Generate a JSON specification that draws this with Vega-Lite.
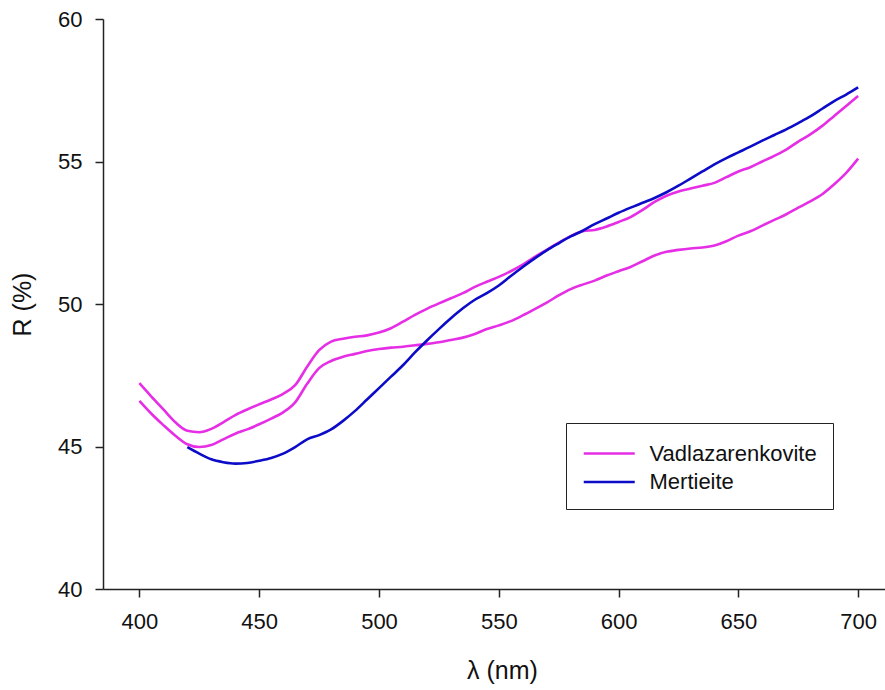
{
  "$schema": "https://vega.github.io/schema/vega-lite/v6.json",
  "autosize": "none",
  "padding": {"left": 103, "top": 19, "right": 0, "bottom": 101},
  "width": 782,
  "height": 570,
  "background": "white",
  "config": {
    "view": {"stroke": null},
    "font": "Liberation Sans",
    "axis": {
      "grid": false,
      "labelFont": "Liberation Sans",
      "labelFontSize": 22,
      "labelColor": "#111",
      "titleFont": "Liberation Sans",
      "titleFontSize": 25,
      "titleFontWeight": "normal",
      "titleColor": "#111",
      "domainColor": "#222",
      "domainWidth": 1.5,
      "tickColor": "#222",
      "tickWidth": 1.5,
      "tickSize": 8
    },
    "legend": {
      "labelFont": "Liberation Sans",
      "labelFontSize": 22,
      "labelColor": "#111"
    }
  },
  "datasets": {
    "spectra": [
      {"mineral": "Vadlazarenkovite", "curve": "V1", "wl": 400, "R": 47.22},
      {"mineral": "Vadlazarenkovite", "curve": "V1", "wl": 405, "R": 46.75},
      {"mineral": "Vadlazarenkovite", "curve": "V1", "wl": 410, "R": 46.3},
      {"mineral": "Vadlazarenkovite", "curve": "V1", "wl": 415, "R": 45.85},
      {"mineral": "Vadlazarenkovite", "curve": "V1", "wl": 420, "R": 45.55},
      {"mineral": "Vadlazarenkovite", "curve": "V1", "wl": 425, "R": 45.5},
      {"mineral": "Vadlazarenkovite", "curve": "V1", "wl": 430, "R": 45.62},
      {"mineral": "Vadlazarenkovite", "curve": "V1", "wl": 435, "R": 45.85},
      {"mineral": "Vadlazarenkovite", "curve": "V1", "wl": 440, "R": 46.1},
      {"mineral": "Vadlazarenkovite", "curve": "V1", "wl": 445, "R": 46.3},
      {"mineral": "Vadlazarenkovite", "curve": "V1", "wl": 450, "R": 46.48},
      {"mineral": "Vadlazarenkovite", "curve": "V1", "wl": 455, "R": 46.65},
      {"mineral": "Vadlazarenkovite", "curve": "V1", "wl": 460, "R": 46.85},
      {"mineral": "Vadlazarenkovite", "curve": "V1", "wl": 465, "R": 47.15},
      {"mineral": "Vadlazarenkovite", "curve": "V1", "wl": 470, "R": 47.8},
      {"mineral": "Vadlazarenkovite", "curve": "V1", "wl": 475, "R": 48.38},
      {"mineral": "Vadlazarenkovite", "curve": "V1", "wl": 480, "R": 48.68},
      {"mineral": "Vadlazarenkovite", "curve": "V1", "wl": 485, "R": 48.78},
      {"mineral": "Vadlazarenkovite", "curve": "V1", "wl": 490, "R": 48.85},
      {"mineral": "Vadlazarenkovite", "curve": "V1", "wl": 495, "R": 48.9},
      {"mineral": "Vadlazarenkovite", "curve": "V1", "wl": 500, "R": 49.0},
      {"mineral": "Vadlazarenkovite", "curve": "V1", "wl": 505, "R": 49.15},
      {"mineral": "Vadlazarenkovite", "curve": "V1", "wl": 510, "R": 49.38},
      {"mineral": "Vadlazarenkovite", "curve": "V1", "wl": 515, "R": 49.62},
      {"mineral": "Vadlazarenkovite", "curve": "V1", "wl": 520, "R": 49.83},
      {"mineral": "Vadlazarenkovite", "curve": "V1", "wl": 525, "R": 50.02},
      {"mineral": "Vadlazarenkovite", "curve": "V1", "wl": 530, "R": 50.2},
      {"mineral": "Vadlazarenkovite", "curve": "V1", "wl": 535, "R": 50.38},
      {"mineral": "Vadlazarenkovite", "curve": "V1", "wl": 540, "R": 50.6},
      {"mineral": "Vadlazarenkovite", "curve": "V1", "wl": 545, "R": 50.78},
      {"mineral": "Vadlazarenkovite", "curve": "V1", "wl": 550, "R": 50.95},
      {"mineral": "Vadlazarenkovite", "curve": "V1", "wl": 555, "R": 51.15},
      {"mineral": "Vadlazarenkovite", "curve": "V1", "wl": 560, "R": 51.38},
      {"mineral": "Vadlazarenkovite", "curve": "V1", "wl": 565, "R": 51.65},
      {"mineral": "Vadlazarenkovite", "curve": "V1", "wl": 570, "R": 51.9},
      {"mineral": "Vadlazarenkovite", "curve": "V1", "wl": 575, "R": 52.15},
      {"mineral": "Vadlazarenkovite", "curve": "V1", "wl": 580, "R": 52.38},
      {"mineral": "Vadlazarenkovite", "curve": "V1", "wl": 585, "R": 52.55},
      {"mineral": "Vadlazarenkovite", "curve": "V1", "wl": 590, "R": 52.6},
      {"mineral": "Vadlazarenkovite", "curve": "V1", "wl": 595, "R": 52.72},
      {"mineral": "Vadlazarenkovite", "curve": "V1", "wl": 600, "R": 52.88},
      {"mineral": "Vadlazarenkovite", "curve": "V1", "wl": 605, "R": 53.05},
      {"mineral": "Vadlazarenkovite", "curve": "V1", "wl": 610, "R": 53.3},
      {"mineral": "Vadlazarenkovite", "curve": "V1", "wl": 615, "R": 53.58},
      {"mineral": "Vadlazarenkovite", "curve": "V1", "wl": 620, "R": 53.8},
      {"mineral": "Vadlazarenkovite", "curve": "V1", "wl": 625, "R": 53.95},
      {"mineral": "Vadlazarenkovite", "curve": "V1", "wl": 630, "R": 54.05},
      {"mineral": "Vadlazarenkovite", "curve": "V1", "wl": 635, "R": 54.15},
      {"mineral": "Vadlazarenkovite", "curve": "V1", "wl": 640, "R": 54.25},
      {"mineral": "Vadlazarenkovite", "curve": "V1", "wl": 645, "R": 54.45},
      {"mineral": "Vadlazarenkovite", "curve": "V1", "wl": 650, "R": 54.65},
      {"mineral": "Vadlazarenkovite", "curve": "V1", "wl": 655, "R": 54.8},
      {"mineral": "Vadlazarenkovite", "curve": "V1", "wl": 660, "R": 55.0},
      {"mineral": "Vadlazarenkovite", "curve": "V1", "wl": 665, "R": 55.2},
      {"mineral": "Vadlazarenkovite", "curve": "V1", "wl": 670, "R": 55.42},
      {"mineral": "Vadlazarenkovite", "curve": "V1", "wl": 675, "R": 55.7},
      {"mineral": "Vadlazarenkovite", "curve": "V1", "wl": 680, "R": 55.95},
      {"mineral": "Vadlazarenkovite", "curve": "V1", "wl": 685, "R": 56.25},
      {"mineral": "Vadlazarenkovite", "curve": "V1", "wl": 690, "R": 56.6},
      {"mineral": "Vadlazarenkovite", "curve": "V1", "wl": 695, "R": 56.95},
      {"mineral": "Vadlazarenkovite", "curve": "V1", "wl": 700, "R": 57.3},
      {"mineral": "Vadlazarenkovite", "curve": "V2", "wl": 400, "R": 46.6},
      {"mineral": "Vadlazarenkovite", "curve": "V2", "wl": 405, "R": 46.15},
      {"mineral": "Vadlazarenkovite", "curve": "V2", "wl": 410, "R": 45.75},
      {"mineral": "Vadlazarenkovite", "curve": "V2", "wl": 415, "R": 45.38},
      {"mineral": "Vadlazarenkovite", "curve": "V2", "wl": 420, "R": 45.08},
      {"mineral": "Vadlazarenkovite", "curve": "V2", "wl": 425, "R": 44.98},
      {"mineral": "Vadlazarenkovite", "curve": "V2", "wl": 430, "R": 45.05},
      {"mineral": "Vadlazarenkovite", "curve": "V2", "wl": 435, "R": 45.25},
      {"mineral": "Vadlazarenkovite", "curve": "V2", "wl": 440, "R": 45.45},
      {"mineral": "Vadlazarenkovite", "curve": "V2", "wl": 445, "R": 45.6},
      {"mineral": "Vadlazarenkovite", "curve": "V2", "wl": 450, "R": 45.78},
      {"mineral": "Vadlazarenkovite", "curve": "V2", "wl": 455, "R": 45.98},
      {"mineral": "Vadlazarenkovite", "curve": "V2", "wl": 460, "R": 46.2},
      {"mineral": "Vadlazarenkovite", "curve": "V2", "wl": 465, "R": 46.55},
      {"mineral": "Vadlazarenkovite", "curve": "V2", "wl": 470, "R": 47.2},
      {"mineral": "Vadlazarenkovite", "curve": "V2", "wl": 475, "R": 47.75},
      {"mineral": "Vadlazarenkovite", "curve": "V2", "wl": 480, "R": 48.0},
      {"mineral": "Vadlazarenkovite", "curve": "V2", "wl": 485, "R": 48.15},
      {"mineral": "Vadlazarenkovite", "curve": "V2", "wl": 490, "R": 48.25},
      {"mineral": "Vadlazarenkovite", "curve": "V2", "wl": 495, "R": 48.35},
      {"mineral": "Vadlazarenkovite", "curve": "V2", "wl": 500, "R": 48.42},
      {"mineral": "Vadlazarenkovite", "curve": "V2", "wl": 505, "R": 48.47},
      {"mineral": "Vadlazarenkovite", "curve": "V2", "wl": 510, "R": 48.5},
      {"mineral": "Vadlazarenkovite", "curve": "V2", "wl": 515, "R": 48.55},
      {"mineral": "Vadlazarenkovite", "curve": "V2", "wl": 520, "R": 48.6},
      {"mineral": "Vadlazarenkovite", "curve": "V2", "wl": 525, "R": 48.66},
      {"mineral": "Vadlazarenkovite", "curve": "V2", "wl": 530, "R": 48.74},
      {"mineral": "Vadlazarenkovite", "curve": "V2", "wl": 535, "R": 48.82},
      {"mineral": "Vadlazarenkovite", "curve": "V2", "wl": 540, "R": 48.95},
      {"mineral": "Vadlazarenkovite", "curve": "V2", "wl": 545, "R": 49.12},
      {"mineral": "Vadlazarenkovite", "curve": "V2", "wl": 550, "R": 49.25},
      {"mineral": "Vadlazarenkovite", "curve": "V2", "wl": 555, "R": 49.4},
      {"mineral": "Vadlazarenkovite", "curve": "V2", "wl": 560, "R": 49.6},
      {"mineral": "Vadlazarenkovite", "curve": "V2", "wl": 565, "R": 49.82},
      {"mineral": "Vadlazarenkovite", "curve": "V2", "wl": 570, "R": 50.05},
      {"mineral": "Vadlazarenkovite", "curve": "V2", "wl": 575, "R": 50.3},
      {"mineral": "Vadlazarenkovite", "curve": "V2", "wl": 580, "R": 50.52},
      {"mineral": "Vadlazarenkovite", "curve": "V2", "wl": 585, "R": 50.68},
      {"mineral": "Vadlazarenkovite", "curve": "V2", "wl": 590, "R": 50.82},
      {"mineral": "Vadlazarenkovite", "curve": "V2", "wl": 595, "R": 51.0},
      {"mineral": "Vadlazarenkovite", "curve": "V2", "wl": 600, "R": 51.15},
      {"mineral": "Vadlazarenkovite", "curve": "V2", "wl": 605, "R": 51.3},
      {"mineral": "Vadlazarenkovite", "curve": "V2", "wl": 610, "R": 51.5},
      {"mineral": "Vadlazarenkovite", "curve": "V2", "wl": 615, "R": 51.7},
      {"mineral": "Vadlazarenkovite", "curve": "V2", "wl": 620, "R": 51.83},
      {"mineral": "Vadlazarenkovite", "curve": "V2", "wl": 625, "R": 51.9},
      {"mineral": "Vadlazarenkovite", "curve": "V2", "wl": 630, "R": 51.95},
      {"mineral": "Vadlazarenkovite", "curve": "V2", "wl": 635, "R": 51.98},
      {"mineral": "Vadlazarenkovite", "curve": "V2", "wl": 640, "R": 52.05},
      {"mineral": "Vadlazarenkovite", "curve": "V2", "wl": 645, "R": 52.2},
      {"mineral": "Vadlazarenkovite", "curve": "V2", "wl": 650, "R": 52.4},
      {"mineral": "Vadlazarenkovite", "curve": "V2", "wl": 655, "R": 52.55},
      {"mineral": "Vadlazarenkovite", "curve": "V2", "wl": 660, "R": 52.75},
      {"mineral": "Vadlazarenkovite", "curve": "V2", "wl": 665, "R": 52.95},
      {"mineral": "Vadlazarenkovite", "curve": "V2", "wl": 670, "R": 53.15},
      {"mineral": "Vadlazarenkovite", "curve": "V2", "wl": 675, "R": 53.38},
      {"mineral": "Vadlazarenkovite", "curve": "V2", "wl": 680, "R": 53.6},
      {"mineral": "Vadlazarenkovite", "curve": "V2", "wl": 685, "R": 53.85},
      {"mineral": "Vadlazarenkovite", "curve": "V2", "wl": 690, "R": 54.2},
      {"mineral": "Vadlazarenkovite", "curve": "V2", "wl": 695, "R": 54.6},
      {"mineral": "Vadlazarenkovite", "curve": "V2", "wl": 700, "R": 55.1},
      {"mineral": "Mertieite", "curve": "M", "wl": 420, "R": 44.98},
      {"mineral": "Mertieite", "curve": "M", "wl": 425, "R": 44.75},
      {"mineral": "Mertieite", "curve": "M", "wl": 430, "R": 44.55},
      {"mineral": "Mertieite", "curve": "M", "wl": 435, "R": 44.45},
      {"mineral": "Mertieite", "curve": "M", "wl": 440, "R": 44.4},
      {"mineral": "Mertieite", "curve": "M", "wl": 445, "R": 44.42},
      {"mineral": "Mertieite", "curve": "M", "wl": 450, "R": 44.5},
      {"mineral": "Mertieite", "curve": "M", "wl": 455, "R": 44.6},
      {"mineral": "Mertieite", "curve": "M", "wl": 460, "R": 44.75},
      {"mineral": "Mertieite", "curve": "M", "wl": 465, "R": 44.98},
      {"mineral": "Mertieite", "curve": "M", "wl": 470, "R": 45.25},
      {"mineral": "Mertieite", "curve": "M", "wl": 475, "R": 45.4},
      {"mineral": "Mertieite", "curve": "M", "wl": 480, "R": 45.6},
      {"mineral": "Mertieite", "curve": "M", "wl": 485, "R": 45.9},
      {"mineral": "Mertieite", "curve": "M", "wl": 490, "R": 46.25},
      {"mineral": "Mertieite", "curve": "M", "wl": 495, "R": 46.65},
      {"mineral": "Mertieite", "curve": "M", "wl": 500, "R": 47.05},
      {"mineral": "Mertieite", "curve": "M", "wl": 505, "R": 47.45},
      {"mineral": "Mertieite", "curve": "M", "wl": 510, "R": 47.85},
      {"mineral": "Mertieite", "curve": "M", "wl": 515, "R": 48.3},
      {"mineral": "Mertieite", "curve": "M", "wl": 520, "R": 48.72},
      {"mineral": "Mertieite", "curve": "M", "wl": 525, "R": 49.12},
      {"mineral": "Mertieite", "curve": "M", "wl": 530, "R": 49.5},
      {"mineral": "Mertieite", "curve": "M", "wl": 535, "R": 49.85},
      {"mineral": "Mertieite", "curve": "M", "wl": 540, "R": 50.15},
      {"mineral": "Mertieite", "curve": "M", "wl": 545, "R": 50.38},
      {"mineral": "Mertieite", "curve": "M", "wl": 550, "R": 50.65},
      {"mineral": "Mertieite", "curve": "M", "wl": 555, "R": 50.98},
      {"mineral": "Mertieite", "curve": "M", "wl": 560, "R": 51.3},
      {"mineral": "Mertieite", "curve": "M", "wl": 565, "R": 51.6},
      {"mineral": "Mertieite", "curve": "M", "wl": 570, "R": 51.88},
      {"mineral": "Mertieite", "curve": "M", "wl": 575, "R": 52.13},
      {"mineral": "Mertieite", "curve": "M", "wl": 580, "R": 52.37},
      {"mineral": "Mertieite", "curve": "M", "wl": 585, "R": 52.57},
      {"mineral": "Mertieite", "curve": "M", "wl": 590, "R": 52.8},
      {"mineral": "Mertieite", "curve": "M", "wl": 595, "R": 53.0},
      {"mineral": "Mertieite", "curve": "M", "wl": 600, "R": 53.2},
      {"mineral": "Mertieite", "curve": "M", "wl": 605, "R": 53.38},
      {"mineral": "Mertieite", "curve": "M", "wl": 610, "R": 53.55},
      {"mineral": "Mertieite", "curve": "M", "wl": 615, "R": 53.72},
      {"mineral": "Mertieite", "curve": "M", "wl": 620, "R": 53.92},
      {"mineral": "Mertieite", "curve": "M", "wl": 625, "R": 54.15},
      {"mineral": "Mertieite", "curve": "M", "wl": 630, "R": 54.4},
      {"mineral": "Mertieite", "curve": "M", "wl": 635, "R": 54.65},
      {"mineral": "Mertieite", "curve": "M", "wl": 640, "R": 54.9},
      {"mineral": "Mertieite", "curve": "M", "wl": 645, "R": 55.12},
      {"mineral": "Mertieite", "curve": "M", "wl": 650, "R": 55.32},
      {"mineral": "Mertieite", "curve": "M", "wl": 655, "R": 55.52},
      {"mineral": "Mertieite", "curve": "M", "wl": 660, "R": 55.73},
      {"mineral": "Mertieite", "curve": "M", "wl": 665, "R": 55.93},
      {"mineral": "Mertieite", "curve": "M", "wl": 670, "R": 56.13},
      {"mineral": "Mertieite", "curve": "M", "wl": 675, "R": 56.35},
      {"mineral": "Mertieite", "curve": "M", "wl": 680, "R": 56.58},
      {"mineral": "Mertieite", "curve": "M", "wl": 685, "R": 56.85},
      {"mineral": "Mertieite", "curve": "M", "wl": 690, "R": 57.12},
      {"mineral": "Mertieite", "curve": "M", "wl": 695, "R": 57.35},
      {"mineral": "Mertieite", "curve": "M", "wl": 700, "R": 57.6}
    ]
  },
  "layer": [
    {
      "mark": {"type": "rule", "color": "#222", "strokeWidth": 1.5},
      "encoding": {"y": {"datum": 60, "type": "quantitative"}}
    },
    {
      "data": {"name": "spectra"},
      "mark": {"type": "line", "strokeWidth": 2.6, "interpolate": "monotone", "clip": true},
      "encoding": {
        "x": {
          "field": "wl",
          "type": "quantitative",
          "scale": {"domain": [384.8, 711.2], "nice": false, "zero": false},
          "axis": {
            "title": "λ (nm)",
            "values": [400, 450, 500, 550, 600, 650, 700],
            "labelPadding": 14,
            "titlePadding": 26,
            "titleX": 399
          }
        },
        "y": {
          "field": "R",
          "type": "quantitative",
          "scale": {"domain": [40, 60], "nice": false, "zero": false},
          "axis": {
            "title": "R (%)",
            "values": [40, 45, 50, 55, 60],
            "labelPadding": 13,
            "titlePadding": 22
          }
        },
        "color": {
          "field": "mineral",
          "type": "nominal",
          "scale": {"domain": ["Vadlazarenkovite", "Mertieite"], "range": ["#e52ee5", "#0c0cc8"]},
          "legend": {
            "title": null,
            "orient": "none",
            "legendX": 463,
            "legendY": 404,
            "symbolType": "M-1,0H3",
            "symbolStrokeWidth": 2.6,
            "symbolSize": 650,
            "labelOffset": 38.5,
            "labelLimit": 400,
            "padding": 16,
            "rowPadding": 2.5,
            "strokeColor": "#222",
            "fillColor": "white",
            "cornerRadius": 0
          }
        },
        "detail": {"field": "curve", "type": "nominal"}
      }
    }
  ]
}
